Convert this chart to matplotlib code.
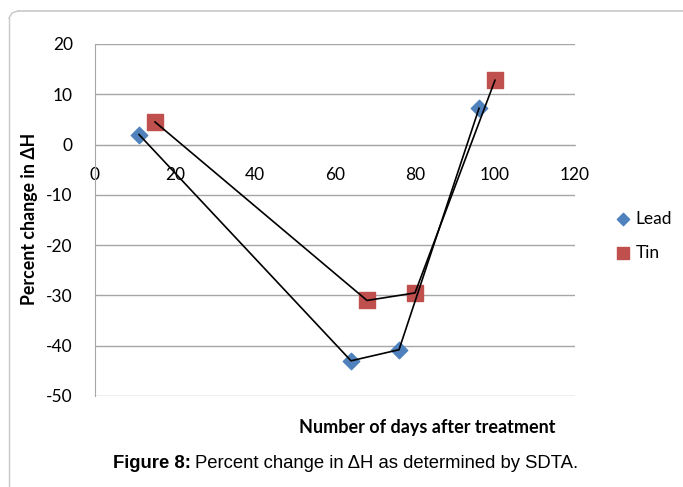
import matplotlib.pyplot as plt
from matplotlib.lines import Line2D

# --- data
lead_days = [11, 64, 76, 96]
lead_pct = [2.0, -43.0, -40.8, 7.2]
tin_days = [15, 68, 80, 100]
tin_pct = [4.5, -31.0, -29.5, 12.8]

x_ticks = [0, 20, 40, 60, 80, 100, 120]
y_ticks = [20, 10, 0, -10, -20, -30, -40, -50]

plt.rcParams['font.family'] = ['Lato', 'DejaVu Sans']
plt.rcParams['axes.unicode_minus'] = False

fig = plt.figure(figsize=(6.83, 4.87), dpi=100)
ax = fig.add_axes([95 / 683, 91 / 487, 480 / 683, 352 / 487])

grid_c = '#a6a6a6'
ax.set_xlim(0, 120)
ax.set_ylim(-50, 20)
ax.set_yticks(y_ticks)
ax.set_xticks(x_ticks)
ax.yaxis.grid(True, color=grid_c, lw=1)
ax.set_axisbelow(True)

for s in ['top', 'right']:
    ax.spines[s].set_visible(False)
ax.spines['left'].set_color(grid_c)
ax.spines['bottom'].set_color(grid_c)
ax.spines['bottom'].set_position(('data', 0))
ax.tick_params(axis='both', length=0, labelsize=12.5, colors='black')
ax.tick_params(axis='x', pad=16)
ax.tick_params(axis='y', pad=16)

# black connecting lines, markers underneath
ax.plot(lead_days, lead_pct, color='black', lw=1.2, zorder=3)
ax.plot(tin_days, tin_pct, color='black', lw=1.2, zorder=3)
ax.scatter(lead_days, lead_pct, marker='D', s=70, color='#4f81bd', zorder=2,
           label='Lead')
ax.scatter(tin_days, tin_pct, marker='s', s=130, color='#c0504d', zorder=2,
           label='Tin')

leg = ax.legend(loc='center left', bbox_to_anchor=(1.05, 0.455),
                frameon=False, fontsize=12.5, handletextpad=0.2,
                labelspacing=1.05, handlelength=1.0, markerscale=0.75)

fig.text(30 / 683, 1 - 219 / 487, 'Percent change in ΔH', rotation=90,
         ha='center', va='center', fontsize=12.8, fontweight='bold')
fig.text(427 / 683, 1 - 427 / 487, 'Number of days after treatment',
         ha='center', va='center', fontsize=13, fontweight='bold')

# caption: bold lead-in, then plain text right after it
cap_y = 1 - 464 / 487
bold = fig.text(113 / 683, cap_y, 'Figure 8:', ha='left', va='center',
                family='Liberation Sans', fontsize=13.3, fontweight='bold')
fig.canvas.draw()
bb = bold.get_window_extent().transformed(fig.transFigure.inverted())
fig.text(bb.x1 + 4 / 683, cap_y,
         'Percent change in ΔH as determined by SDTA.', ha='left',
         va='center', family='Liberation Sans', fontsize=13.3)

# outer frame: left and top edges with a rounded corner
frame_c = '#c8c8c8'
fig.add_artist(Line2D([9 / 683, 9 / 683], [0, 1 - 18 / 487],
                      color=frame_c, lw=1, transform=fig.transFigure))
fig.add_artist(Line2D([18 / 683, 1.0], [1 - 11 / 487, 1 - 11 / 487],
                      color=frame_c, lw=1.2, transform=fig.transFigure))
fig.add_artist(Line2D([9 / 683, 12 / 683, 18 / 683],
                      [1 - 18 / 487, 1 - 13 / 487, 1 - 11 / 487],
                      color=frame_c, lw=1, transform=fig.transFigure))

fig.savefig('out.png', dpi=100)
